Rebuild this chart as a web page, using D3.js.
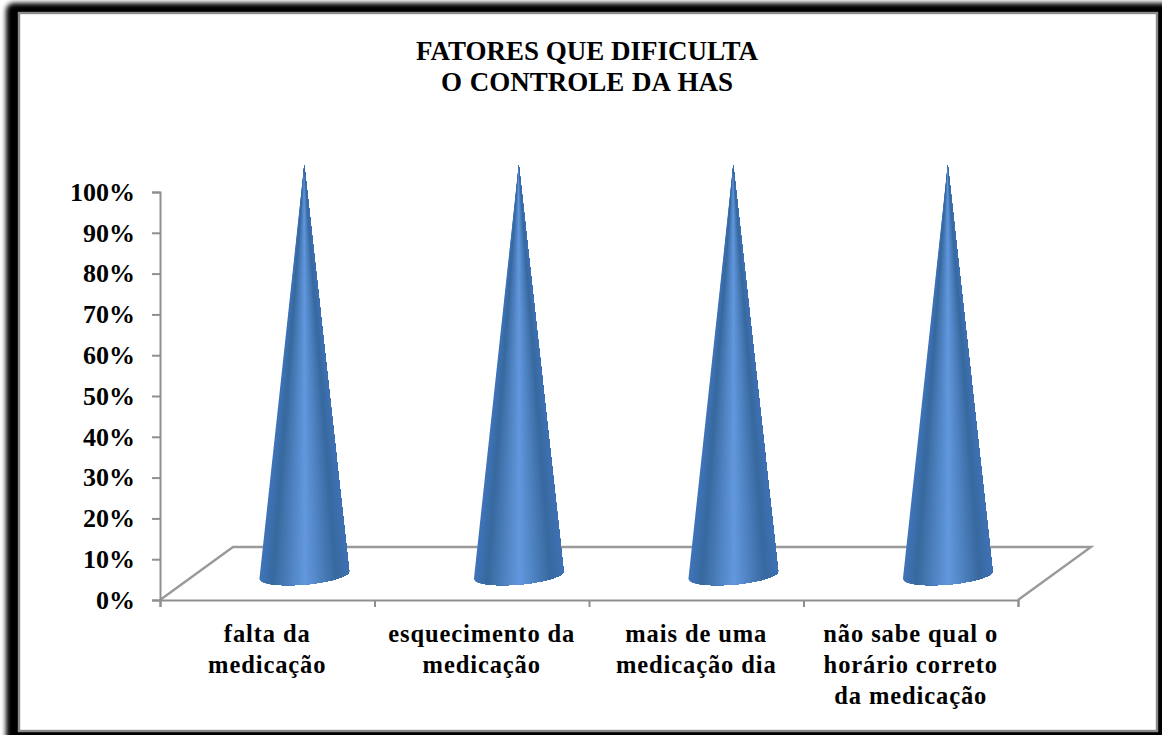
<!DOCTYPE html>
<html lang="pt">
<head>
<meta charset="utf-8">
<script src="https://cdn.jsdelivr.net/npm/d3@7/dist/d3.min.js"></script>
<style>
  html, body { margin: 0; padding: 0; background: #fff; }
  svg { display: block; }
  text { font-family: "Liberation Serif", serif; font-weight: bold; fill: #000; }
</style>
</head>
<body>
<svg id="chart" width="1162" height="735"></svg>
<script>
// Chart content
const titleLines = ["FATORES QUE DIFICULTA", "O CONTROLE DA HAS"];
const categories = ["falta da medicação", "esquecimento da medicação", "mais de uma medicação dia", "não sabe qual o horário correto da medicação"];
const categoryLines = [
  ["falta da", "medicação"],
  ["esquecimento da", "medicação"],
  ["mais de uma", "medicação dia"],
  ["não sabe qual o", "horário correto", "da medicação"]
];
const values = [100, 100, 100, 100];
const yTicks = [0, 10, 20, 30, 40, 50, 60, 70, 80, 90, 100];

const svg = d3.select("#chart");
const W = 1162, H = 735;

// Plot geometry: front floor edge, plus the oblique depth of the 3D floor
const plot = { left: 160, right: 1018, top: 192, bottom: 600 };
const depth = { dx: 73, dy: -53 };
const coneOffset = { dx: 37, dy: -27 };   // cones stand halfway back on the floor
const coneRadius = 45, ellipseRy = 9.5, ellipseTilt = -5, baseDrop = 2;

const x = d3.scaleBand().domain(categories).range([plot.left, plot.right]);
const y = d3.scaleLinear().domain([0, 100]).range([plot.bottom, plot.top]);

// Heavy dark frame with a soft outer edge
const defs = svg.append("defs");
const blur = defs.append("filter").attr("id", "frameBlur")
  .attr("x", "-5%").attr("y", "-5%").attr("width", "110%").attr("height", "110%");
blur.append("feGaussianBlur").attr("stdDeviation", 2.6);

svg.append("rect").attr("width", W).attr("height", H).attr("fill", "#fff");
svg.append("rect")
  .attr("x", 6).attr("y", 3).attr("width", W + 20).attr("height", H + 20)
  .attr("rx", 8).attr("fill", "#000").attr("filter", "url(#frameBlur)");
svg.append("rect")
  .attr("x", 19).attr("y", 13).attr("width", 1138).attr("height", 718)
  .attr("fill", "#fff").attr("stroke", "#8a8a8a").attr("stroke-width", 2.4);

// Floor of the 3D plot
svg.append("path")
  .attr("d", d3.line()([
    [plot.left, plot.bottom],
    [plot.left + depth.dx, plot.bottom + depth.dy],
    [plot.right + depth.dx, plot.bottom + depth.dy],
    [plot.right, plot.bottom]
  ]))
  .attr("fill", "none").attr("stroke", "#9a9a9a").attr("stroke-width", 2.4);

// Axes
const yAxis = d3.axisLeft(y).tickValues(yTicks).tickSize(8).tickPadding(17)
  .tickFormat(d => d + "%");
const gy = svg.append("g").attr("transform", `translate(${plot.left},0)`).call(yAxis);
gy.selectAll("text").style("font-size", "26px")
  .style("font-family", '"Liberation Serif", serif').style("font-weight", "bold");

const xEdges = d3.axisBottom(d3.scaleLinear().domain([0, 4]).range([plot.left, plot.right]))
  .tickValues([0, 1, 2, 3, 4]).tickSize(7).tickFormat("");
const gx = svg.append("g").attr("transform", `translate(0,${plot.bottom})`).call(xEdges);

[gy, gx].forEach(g => {
  g.selectAll("path.domain").attr("stroke", "#8f8f8f").attr("stroke-width", 2);
  g.selectAll(".tick line").attr("stroke", "#8f8f8f").attr("stroke-width", 2);
});

// Shading of the cone surface by its angle around the axis
const shade = d3.scaleLinear()
  .domain([0, 0.14, 0.5, 0.85, 1])
  .range(["#3f75b9", "#38699e", "#6298de", "#38699f", "#3f72b5"]);

const tilt = ellipseTilt * Math.PI / 180;
function rimPoint(t, baseY) {
  // t runs from the left rim (0) to the right rim (1) along the front of the base
  const a = Math.PI * (1 - t);
  const ex = coneRadius * Math.cos(a), ey = ellipseRy * Math.sin(a);
  return [ex * Math.cos(tilt) - ey * Math.sin(tilt), baseY + ex * Math.sin(tilt) + ey * Math.cos(tilt)];
}

const steps = d3.range(0, 80);
const rimParams = d3.range(0, 81).map(i => Math.acos(1 - 2 * i / 80) / Math.PI);

const cones = svg.append("g").selectAll("g")
  .data(categories.map((c, i) => ({ category: c, value: values[i] })))
  .join("g")
  .attr("transform", d => `translate(${x(d.category) + x.bandwidth() / 2 + coneOffset.dx},0)`);

cones.each(function (d) {
  const baseY = y(0) + coneOffset.dy + baseDrop;
  const apexY = y(d.value) + coneOffset.dy;
  // Each layer covers everything from its facet to the right rim, so no seams appear between facets
  d3.select(this).selectAll("path")
    .data(steps)
    .join("path")
    .attr("d", i => d3.line()([[0, apexY], ...rimParams.slice(i).map(t => rimPoint(t, baseY))]) + "Z")
    .attr("fill", i => shade((i + 0.5) / steps.length));
});

// Title
svg.append("g").selectAll("text").data(titleLines).join("text")
  .attr("x", (d, i) => 587).attr("y", (d, i) => 60 + i * 31)
  .attr("text-anchor", "middle")
  .attr("word-spacing", (d, i) => i === 1 ? 1 : 0)
  .style("font-size", "27px")
  .text(d => d);

// Category labels, wrapped as stacked lines under each slot
svg.append("g").selectAll("g")
  .data(categories.map((c, i) => ({ category: c, lines: categoryLines[i] })))
  .join("g")
  .attr("transform", d => `translate(${x(d.category) + x.bandwidth() / 2},0)`)
  .selectAll("text").data(d => d.lines).join("text")
  .attr("x", 0).attr("y", (d, i) => 642 + i * 31)
  .attr("text-anchor", "middle")
  .attr("letter-spacing", 0.9)
  .style("font-size", "24.5px")
  .text(d => d);
</script>
</body>
</html>
